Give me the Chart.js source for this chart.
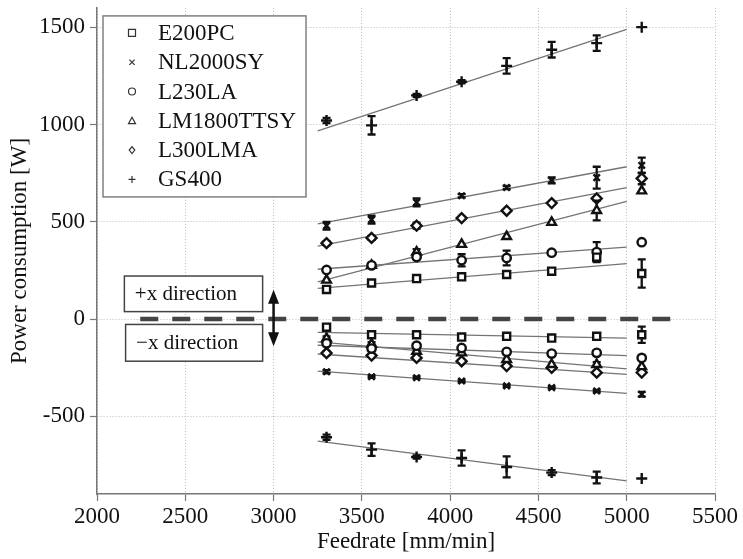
<!DOCTYPE html>
<html>
<head>
<meta charset="utf-8">
<script src="https://cdn.jsdelivr.net/npm/chart.js@4.4.0/dist/chart.umd.min.js"></script>
<style>
  body { margin: 0; background: #fff; }
</style>
</head>
<body>
<canvas id="chart_power" width="743" height="559"></canvas>
<script>
const feedrates = [3300, 3555, 3810, 4065, 4320, 4575, 4830, 5085];
const xTicks = [2000, 2500, 3000, 3500, 4000, 4500, 5000, 5500];
const yTicks = [-500, 0, 500, 1000, 1500];
const fitX = [3250, 5000];
const zeroLineX = [2245, 5300];

// mean power [W] in +x direction, then in -x direction, with error half-widths
const e200pcPos = [152, 185, 208, 217, 229, 246, 318, 234];
const e200pcPosErr = [8, 10, 6, 6, 8, 10, 0, 73];
const e200pcNeg = [-42, -81, -81, -93, -89, -98, -89, -81];
const e200pcNegErr = [0, 0, 0, 0, 0, 0, 0, 42];
const e200pcFitPos = [157, 285];
const e200pcFitNeg = [-69, -98];

const nl2000Pos = [480, 511, 600, 634, 676, 713, 727, 790];
const nl2000PosErr = [20, 20, 20, 8, 8, 15, 56, 40];
const nl2000Neg = [-271, -297, -302, -319, -344, -353, -370, -387];
const nl2000NegErr = [8, 5, 5, 5, 5, 5, 6, 12];
const nl2000FitPos = [489, 783];
const nl2000FitNeg = [-268, -382];

const l230Pos = [252, 276, 319, 302, 314, 341, 344, 395];
const l230PosErr = [10, 10, 10, 31, 38, 0, 51, 0];
const l230Neg = [-125, -152, -137, -149, -169, -178, -174, -200];
const l230NegErr = [0, 0, 0, 0, 0, 0, 12, 0];
const l230FitPos = [256, 370];
const l230FitNeg = [-135, -188];

const lm1800Pos = [200, 276, 344, 384, 424, 497, 558, 659];
const lm1800PosErr = [0, 0, 15, 0, 0, 0, 51, 0];
const lm1800Neg = [-100, -129, -166, -174, -208, -234, -234, -245];
const lm1800NegErr = [10, 10, 10, 0, 0, 0, 12, 0];
const lm1800FitPos = [191, 605];
const lm1800FitNeg = [-118, -256];

const l300Pos = [390, 417, 480, 519, 557, 596, 620, 723];
const l300PosErr = [10, 10, 15, 0, 0, 0, 0, 30];
const l300Neg = [-175, -188, -200, -217, -242, -251, -276, -275];
const l300NegErr = [10, 0, 0, 0, 0, 0, 0, 0];
const l300FitPos = [375, 676];
const l300FitNeg = [-180, -285];

const gs400Pos = [1021, 996, 1150, 1220, 1302, 1385, 1419, 1501];
const gs400PosErr = [13, 47, 8, 8, 40, 40, 40, 0];
const gs400Neg = [-608, -672, -710, -715, -761, -790, -815, -820];
const gs400NegErr = [13, 32, 8, 39, 54, 13, 30, 0];
const gs400FitPos = [968, 1489];
const gs400FitNeg = [-628, -833];

const series = [
  { name: 'E200PC', style: 'rect', r: 5, pos: e200pcPos, posErr: e200pcPosErr, neg: e200pcNeg, negErr: e200pcNegErr, fitPos: e200pcFitPos, fitNeg: e200pcFitNeg },
  { name: 'NL2000SY', style: 'crossRot', r: 4.5, pos: nl2000Pos, posErr: nl2000PosErr, neg: nl2000Neg, negErr: nl2000NegErr, fitPos: nl2000FitPos, fitNeg: nl2000FitNeg },
  { name: 'L230LA', style: 'circle', r: 4.2, pos: l230Pos, posErr: l230PosErr, neg: l230Neg, negErr: l230NegErr, fitPos: l230FitPos, fitNeg: l230FitNeg },
  { name: 'LM1800TTSY', style: 'triangle', r: 5, pos: lm1800Pos, posErr: lm1800PosErr, neg: lm1800Neg, negErr: lm1800NegErr, fitPos: lm1800FitPos, fitNeg: lm1800FitNeg },
  { name: 'L300LMA', style: 'rectRot', r: 5, pos: l300Pos, posErr: l300PosErr, neg: l300Neg, negErr: l300NegErr, fitPos: l300FitPos, fitNeg: l300FitNeg },
  { name: 'GS400', style: 'cross', r: 5.5, pos: gs400Pos, posErr: gs400PosErr, neg: gs400Neg, negErr: gs400NegErr, fitPos: gs400FitPos, fitNeg: gs400FitNeg }
];

const serif = "'Liberation Serif', 'Times New Roman', serif";
Chart.defaults.font.family = serif;
Chart.defaults.color = '#111';

const datasets = [];
series.forEach(s => {
  [s.fitPos, s.fitNeg].forEach(f => {
    datasets.push({
      data: fitX.map((x, i) => ({ x: x, y: f[i] })),
      showLine: true,
      borderColor: '#747474',
      borderWidth: 1.3,
      pointRadius: 0,
      order: 2
    });
  });
  datasets.push({
    label: s.name,
    data: feedrates.map((x, i) => ({ x: x, y: s.pos[i] })).concat(feedrates.map((x, i) => ({ x: x, y: s.neg[i] }))),
    errors: s.posErr.concat(s.negErr),
    pointStyle: s.style,
    pointRadius: s.r,
    pointBorderWidth: 2.4,
    pointBorderColor: '#111',
    pointBackgroundColor: '#fff',
    showLine: false,
    order: 1
  });
});
datasets.push({
  data: zeroLineX.map(x => ({ x: x, y: 0 })),
  showLine: true,
  borderColor: '#444',
  borderWidth: 4.5,
  borderDash: [18, 14],
  pointRadius: 0,
  order: 3
});

function drawMarker(ctx, style, x, y, r) {
  ctx.beginPath();
  if (style === 'rect') {
    ctx.rect(x - r, y - r, 2 * r, 2 * r);
  } else if (style === 'circle') {
    ctx.arc(x, y, r, 0, Math.PI * 2);
  } else if (style === 'triangle') {
    ctx.moveTo(x, y - r);
    ctx.lineTo(x + r, y + r * 0.8);
    ctx.lineTo(x - r, y + r * 0.8);
    ctx.closePath();
  } else if (style === 'rectRot') {
    ctx.moveTo(x, y - r);
    ctx.lineTo(x + r * 0.8, y);
    ctx.lineTo(x, y + r);
    ctx.lineTo(x - r * 0.8, y);
    ctx.closePath();
  } else if (style === 'cross') {
    ctx.moveTo(x - r, y); ctx.lineTo(x + r, y);
    ctx.moveTo(x, y - r); ctx.lineTo(x, y + r);
  } else if (style === 'crossRot') {
    ctx.moveTo(x - r * 0.75, y - r * 0.75); ctx.lineTo(x + r * 0.75, y + r * 0.75);
    ctx.moveTo(x + r * 0.75, y - r * 0.75); ctx.lineTo(x - r * 0.75, y + r * 0.75);
  }
  ctx.stroke();
}

// vertical error bars, drawn just before the markers of each series
const errorBars = {
  id: 'errorBars',
  beforeDatasetDraw(chart, args) {
    const ds = chart.data.datasets[args.index];
    if (!ds.errors) return;
    const ctx = chart.ctx;
    const xs = chart.scales.x, ys = chart.scales.y;
    ctx.save();
    ctx.strokeStyle = '#111';
    ctx.lineWidth = 2.3;
    ds.data.forEach((p, i) => {
      const e = ds.errors[i];
      if (!e) return;
      const px = xs.getPixelForValue(p.x);
      const top = ys.getPixelForValue(p.y + e);
      const bot = ys.getPixelForValue(p.y - e);
      ctx.beginPath();
      ctx.moveTo(px, top); ctx.lineTo(px, bot);
      ctx.moveTo(px - 4, top); ctx.lineTo(px + 4, top);
      ctx.moveTo(px - 4, bot); ctx.lineTo(px + 4, bot);
      ctx.stroke();
    });
    ctx.restore();
  }
};

// framed legend, direction boxes and double arrow
const overlay = {
  id: 'overlay',
  afterDraw(chart) {
    const ctx = chart.ctx;
    const area = chart.chartArea;
    const xs = chart.scales.x, ys = chart.scales.y;
    ctx.save();

    const lx = area.left + 6, ly = area.top + 8;
    ctx.fillStyle = '#fff';
    ctx.strokeStyle = '#808080';
    ctx.lineWidth = 1.5;
    ctx.fillRect(lx, ly, 203, 181);
    ctx.strokeRect(lx, ly, 203, 181);
    ctx.font = '23px ' + serif;
    ctx.textBaseline = 'middle';
    ctx.textAlign = 'left';
    series.forEach((s, i) => {
      const y = ly + 17 + i * 29.3;
      ctx.strokeStyle = '#333';
      ctx.lineWidth = 1.2;
      drawMarker(ctx, s.style, lx + 29, y, 3.5);
      ctx.fillStyle = '#111';
      ctx.fillText(s.name, lx + 55, y + 1);
    });

    const boxes = [
      { text: '+x direction', x0: 2155, x1: 2938, y0: 221, y1: 38 },
      { text: '\u2212x direction', x0: 2162, x1: 2938, y0: -28, y1: -217 }
    ];
    ctx.font = '21px ' + serif;
    boxes.forEach(b => {
      const x0 = xs.getPixelForValue(b.x0), x1 = xs.getPixelForValue(b.x1);
      const y0 = ys.getPixelForValue(b.y0), y1 = ys.getPixelForValue(b.y1);
      ctx.fillStyle = '#fff';
      ctx.fillRect(x0, y0, x1 - x0, y1 - y0);
      ctx.strokeStyle = '#444';
      ctx.lineWidth = 1.5;
      ctx.strokeRect(x0, y0, x1 - x0, y1 - y0);
      ctx.fillStyle = '#111';
      ctx.fillText(b.text, x0 + 10.5, (y0 + y1) / 2 + 1);
    });

    const ax = xs.getPixelForValue(3000);
    const aTop = ys.getPixelForValue(150), aBot = ys.getPixelForValue(-140);
    ctx.strokeStyle = '#111';
    ctx.fillStyle = '#111';
    ctx.lineWidth = 2.5;
    ctx.beginPath();
    ctx.moveTo(ax, aTop + 10); ctx.lineTo(ax, aBot - 10);
    ctx.stroke();
    ctx.beginPath();
    ctx.moveTo(ax, aTop); ctx.lineTo(ax + 5.5, aTop + 14); ctx.lineTo(ax - 5.5, aTop + 14); ctx.closePath();
    ctx.moveTo(ax, aBot); ctx.lineTo(ax + 5.5, aBot - 14); ctx.lineTo(ax - 5.5, aBot - 14); ctx.closePath();
    ctx.fill();
    ctx.restore();
  }
};

new Chart(document.getElementById('chart_power'), {
  type: 'scatter',
  data: { datasets: datasets },
  plugins: [errorBars, overlay],
  options: {
    responsive: false,
    animation: false,
    layout: { padding: { top: 4, right: 28, left: 0, bottom: 0 } },
    plugins: {
      legend: { display: false },
      tooltip: { enabled: false }
    },
    scales: {
      x: {
        type: 'linear',
        min: 2000,
        max: 5500,
        afterBuildTicks: axis => { axis.ticks = xTicks.map(v => ({ value: v })); },
        afterFit: scale => { scale.height = 65; scale.paddingLeft = 0; scale.paddingRight = 0; },
        ticks: { font: { size: 23 }, color: '#111', padding: 2, maxRotation: 0, callback: v => String(v) },
        grid: { color: '#bdbdbd', lineWidth: 1, tickLength: 7, tickColor: '#777', tickWidth: 1.2 },
        border: { color: '#777', width: 1.5, dash: [1, 2] },
        title: { display: true, text: 'Feedrate [mm/min]', font: { size: 23 }, color: '#111', padding: { top: 0, bottom: 3 } }
      },
      y: {
        type: 'linear',
        min: -900,
        max: 1600,
        afterBuildTicks: axis => { axis.ticks = yTicks.map(v => ({ value: v })); },
        afterFit: scale => { scale.width = 97; scale.paddingTop = 0; scale.paddingBottom = 0; },
        ticks: { font: { size: 23 }, color: '#111', padding: 5, callback: v => String(v) },
        grid: { color: '#bdbdbd', lineWidth: 1, tickLength: 7, tickColor: '#777', tickWidth: 1.2 },
        border: { color: '#777', width: 1.5, dash: [1, 2] },
        title: { display: true, text: 'Power consumption [W]', font: { size: 23 }, color: '#111', padding: { top: 6, bottom: 0 } }
      }
    }
  }
});
</script>
</body>
</html>
